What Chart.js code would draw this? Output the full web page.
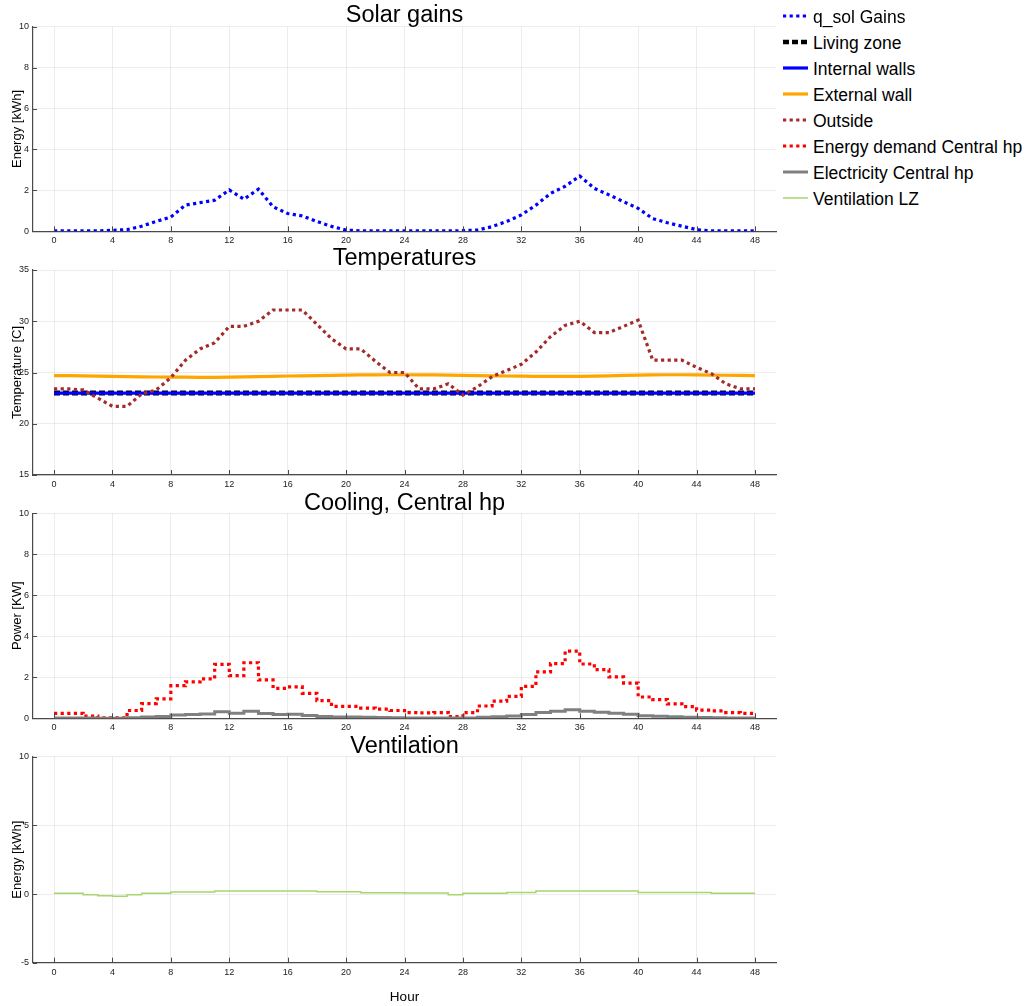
<!DOCTYPE html>
<html>
<head>
<meta charset="utf-8">
<title>Solar gains, temperatures, cooling and ventilation</title>
<script src="https://cdn.jsdelivr.net/npm/chart.js@4.4.1/dist/chart.umd.min.js"></script>
<style>
  html, body { margin: 0; padding: 0; background: #fff; }
  body { width: 1031px; height: 1006px; position: relative; overflow: hidden;
         font-family: "Liberation Sans", Arial, Helvetica, sans-serif; }
  canvas.panel { position: absolute; left: 0; top: 0; }
  .ptitle { position: absolute; left: 0; width: 809px; text-align: center;
            font-size: 23.5px; line-height: 1; color: #000; white-space: nowrap; }
  .lg-row { position: absolute; left: 783px; height: 20px; display: flex; align-items: center; }
  .lg-row svg { display: block; }
  .lg-text { position: absolute; left: 813px; height: 20px; line-height: 20px;
             font-size: 17.5px; color: #000; white-space: nowrap; }
</style>
</head>
<body>
<canvas id="cSolar" class="panel" width="780" height="1006"></canvas>
<canvas id="cTemp" class="panel" width="780" height="1006"></canvas>
<canvas id="cCool" class="panel" width="780" height="1006"></canvas>
<canvas id="cVent" class="panel" width="780" height="1006"></canvas>

<div class="ptitle" style="top:2.5px">Solar gains</div>
<div class="ptitle" style="top:246px">Temperatures</div>
<div class="ptitle" style="top:490.5px">Cooling, Central hp</div>
<div class="ptitle" style="top:733.7px">Ventilation</div>
<div id="legend"></div>

<script>
// ---- data: hourly values over two days ----
const hours = [0,1,2,3,4,5,6,7,8,9,10,11,12,13,14,15,16,17,18,19,20,21,22,23,24,
               25,26,27,28,29,30,31,32,33,34,35,36,37,38,39,40,41,42,43,44,45,46,47,48];
const hourTicks = [0,4,8,12,16,20,24,28,32,36,40,44,48];

// solar gains [kWh]
const qSolGains = [0.02,0.02,0.02,0.02,0.05,0.08,0.25,0.48,0.70,1.28,
                   1.40,1.52,2.02,1.57,2.06,1.20,0.87,0.75,0.48,0.24,
                   0.06,0.02,0.02,0.02,0.02,0.02,0.02,0.02,0.03,0.06,
                   0.23,0.48,0.80,1.28,1.85,2.20,2.70,2.10,1.78,1.45,
                   1.12,0.62,0.42,0.25,0.08,0.02,0.02,0.02,0.02];

// temperatures [C]
const livingZone = [23.0,23.0,23.0,23.0,23.0,23.0,23.0,23.0,23.0,23.0,
                    23.0,23.0,23.0,23.0,23.0,23.0,23.0,23.0,23.0,23.0,
                    23.0,23.0,23.0,23.0,23.0,23.0,23.0,23.0,23.0,23.0,
                    23.0,23.0,23.0,23.0,23.0,23.0,23.0,23.0,23.0,23.0,
                    23.0,23.0,23.0,23.0,23.0,23.0,23.0,23.0,23.0];
const internalWalls = [22.98,22.98,22.98,22.98,22.98,22.98,22.98,22.98,22.98,22.98,
                       22.98,22.98,22.98,22.98,22.98,22.98,22.98,22.98,22.98,22.98,
                       22.98,22.98,22.98,22.98,22.98,22.98,22.98,22.98,22.98,22.98,
                       22.98,22.98,22.98,22.98,22.98,22.98,22.98,22.98,22.98,22.98,
                       22.98,22.98,22.98,22.98,22.98,22.98,22.98,22.98,22.98];
const externalWall = [24.70,24.69,24.67,24.65,24.62,24.60,24.58,24.56,24.55,24.54,
                      24.53,24.53,24.55,24.57,24.60,24.63,24.66,24.68,24.70,24.72,
                      24.74,24.76,24.77,24.78,24.78,24.77,24.76,24.74,24.72,24.70,
                      24.68,24.66,24.64,24.63,24.62,24.62,24.63,24.65,24.68,24.71,
                      24.74,24.76,24.78,24.78,24.77,24.75,24.73,24.71,24.70];
const outside = [23.4,23.4,23.3,22.5,21.7,21.7,22.9,23.3,24.5,26.2,
                 27.3,27.9,29.5,29.5,30.0,31.1,31.1,31.1,29.7,28.3,
                 27.3,27.3,26.1,25.0,25.0,23.4,23.4,23.9,22.8,23.6,
                 24.6,25.2,25.8,27.0,28.5,29.6,30.0,28.9,28.9,29.5,
                 30.1,26.2,26.2,26.2,25.5,24.9,23.9,23.4,23.4];

// cooling power [kW], held constant through each hour
const energyDemand = [0.24,0.24,0.11,0.02,0.02,0.38,0.72,0.95,1.59,1.78,
                      1.92,2.63,2.08,2.71,1.87,1.46,1.53,1.22,0.86,0.58,
                      0.58,0.50,0.45,0.38,0.28,0.26,0.28,0.08,0.28,0.60,
                      0.84,1.07,1.56,2.26,2.67,3.28,2.65,2.37,2.02,1.72,
                      1.04,0.91,0.70,0.57,0.40,0.36,0.28,0.24,0.24];
const electricity = [0.02,0.02,0.01,0.00,0.00,0.03,0.06,0.09,0.16,0.18,
                     0.21,0.32,0.25,0.35,0.24,0.19,0.20,0.14,0.09,0.06,
                     0.06,0.05,0.04,0.03,0.02,0.02,0.02,0.01,0.02,0.05,
                     0.08,0.11,0.18,0.28,0.34,0.42,0.34,0.30,0.25,0.20,
                     0.12,0.10,0.07,0.05,0.04,0.03,0.02,0.02,0.02];

// ventilation [kWh], held constant through each hour
const ventilationLZ = [0.05,0.05,-0.05,-0.12,-0.17,-0.05,0.05,0.05,0.15,0.15,
                       0.15,0.22,0.22,0.22,0.22,0.22,0.22,0.22,0.17,0.17,
                       0.17,0.10,0.10,0.10,0.07,0.07,0.07,-0.05,0.05,0.05,
                       0.05,0.12,0.12,0.22,0.22,0.22,0.22,0.22,0.22,0.22,
                       0.12,0.12,0.12,0.12,0.12,0.05,0.05,0.05,0.05];

const solarTicks = [0,2,4,6,8,10];
const tempTicks = [15,20,25,30,35];
const powerTicks = [0,2,4,6,8,10];
const ventTicks = [-5,0,5,10];

// ---- styling ----
const FONT = "'Liberation Sans', Arial, Helvetica, sans-serif";
const AXIS_COLOR = '#4a4a4a';
const GRID_COLOR = 'rgba(0,0,0,0.075)';
const TICK_COLOR = '#222';
Chart.defaults.font.family = FONT;

const pts = (vals) => hours.map((h, i) => ({ x: h, y: vals[i] }));

function series(label, vals, color, width, dash, extra) {
  return Object.assign({
    label, data: pts(vals), borderColor: color, backgroundColor: color,
    borderWidth: width, borderDash: dash || [], borderCapStyle: 'butt',
    pointRadius: 0, fill: false, tension: 0
  }, extra || {});
}

const DOT = [3.2, 3.4];

const solarSets = [
  series('q_sol Gains', qSolGains, '#0000ff', 3.2, DOT)
];
const tempSets = [
  series('Living zone', livingZone, '#000000', 5, [6, 3], { order: 4 }),
  series('Internal walls', internalWalls, '#0000ff', 3.2, null, { order: 3 }),
  series('External wall', externalWall, '#ffa500', 3.2, null, { order: 2 }),
  series('Outside', outside, '#a52a2a', 3.2, DOT, { order: 1 })
];
const coolSets = [
  series('Energy demand Central hp', energyDemand, '#ff0000', 3.2, DOT, { stepped: 'before', order: 2 }),
  series('Electricity Central hp', electricity, '#808080', 3, null, { stepped: 'before', order: 1 })
];
const ventSets = [
  series('Ventilation LZ', ventilationLZ, '#a8d56c', 1.5, null, { stepped: 'before' })
];

// short tick marks pointing into the plot area
const innerTicks = {
  id: 'innerTicks',
  afterDraw(chart) {
    const { ctx, chartArea: a, scales: { x, y } } = chart;
    ctx.save();
    ctx.strokeStyle = AXIS_COLOR;
    ctx.lineWidth = 1;
    ctx.beginPath();
    x.ticks.forEach(t => {
      const px = Math.round(x.getPixelForValue(t.value)) + 0.5;
      ctx.moveTo(px, a.bottom); ctx.lineTo(px, a.bottom - 5);
    });
    y.ticks.forEach(t => {
      const py = Math.round(y.getPixelForValue(t.value)) + 0.5;
      ctx.moveTo(a.left, py); ctx.lineTo(a.left + 4, py);
    });
    ctx.stroke();
    ctx.restore();
  }
};

function makePanel(id, datasets, o) {
  const xHeight = o.xTitle ? (1006 - o.bottom) : 20;
  return new Chart(document.getElementById(id), {
    type: 'line',
    data: { datasets },
    plugins: [innerTicks],
    options: {
      responsive: false,
      animation: false,
      events: [],
      layout: {
        autoPadding: false,
        padding: { top: o.top, left: 0, right: 4, bottom: 1006 - o.bottom - xHeight }
      },
      plugins: { legend: { display: false }, tooltip: { enabled: false }, title: { display: false } },
      scales: {
        x: {
          type: 'linear', min: -1.44, max: 49.44,
          afterBuildTicks: s => { s.ticks = hourTicks.map(v => ({ value: v })); },
          afterFit: s => { s.height = xHeight; },
          grid: { color: GRID_COLOR, drawTicks: false, lineWidth: 1 },
          border: { color: AXIS_COLOR, width: 1.2 },
          ticks: { color: TICK_COLOR, font: { size: 9 }, padding: 4, maxRotation: 0, autoSkip: false },
          title: o.xTitle ? { display: true, text: o.xTitle, color: '#000',
                              font: { size: 13.5 }, padding: { top: 0, bottom: 1 } } : { display: false }
        },
        y: {
          type: 'linear', min: o.yMin, max: o.yMax,
          afterBuildTicks: s => { s.ticks = o.yTicks.map(v => ({ value: v })); },
          afterFit: s => { s.width = 33; },
          grid: { color: GRID_COLOR, drawTicks: false, lineWidth: 1 },
          border: { color: AXIS_COLOR, width: 1.2 },
          ticks: { color: TICK_COLOR, font: { size: 9 }, padding: 4, autoSkip: false },
          title: { display: true, text: o.yTitle, color: '#000',
                   font: { size: 13 }, padding: { top: 10, bottom: 0 } }
        }
      }
    }
  });
}

const charts = [
  makePanel('cSolar', solarSets, { top: 26.7, bottom: 231.3, yMin: 0, yMax: 10, yTicks: solarTicks, yTitle: 'Energy [kWh]' }),
  makePanel('cTemp', tempSets, { top: 270, bottom: 475, yMin: 15, yMax: 35, yTicks: tempTicks, yTitle: 'Temperature [C]' }),
  makePanel('cCool', coolSets, { top: 513.3, bottom: 718.3, yMin: 0, yMax: 10, yTicks: powerTicks, yTitle: 'Power [KW]' }),
  makePanel('cVent', ventSets, { top: 756.7, bottom: 962.7, yMin: -5, yMax: 10, yTicks: ventTicks, yTitle: 'Energy [kWh]', xTitle: 'Hour' })
];

// shared legend for all four panels, built from the dataset styles
(function buildLegend() {
  const host = document.getElementById('legend');
  const all = [].concat(solarSets, tempSets, coolSets, ventSets);
  all.forEach((ds, i) => {
    const cy = 15.7 + 25.98 * i;
    const row = document.createElement('div');
    row.className = 'lg-row';
    row.style.top = (cy - 10) + 'px';
    const dash = ds.borderDash && ds.borderDash.length ? ds.borderDash.join(' ') : 'none';
    const w = Math.min(ds.borderWidth, 4.5);
    row.innerHTML = '<svg width="25" height="20"><line x1="0" y1="10" x2="25" y2="10" stroke="' +
      ds.borderColor + '" stroke-width="' + w + '" stroke-dasharray="' + dash + '"/></svg>';
    host.appendChild(row);
    const txt = document.createElement('div');
    txt.className = 'lg-text';
    txt.style.top = (cy - 9) + 'px';
    txt.textContent = ds.label;
    host.appendChild(txt);
  });
})();
</script>
</body>
</html>
